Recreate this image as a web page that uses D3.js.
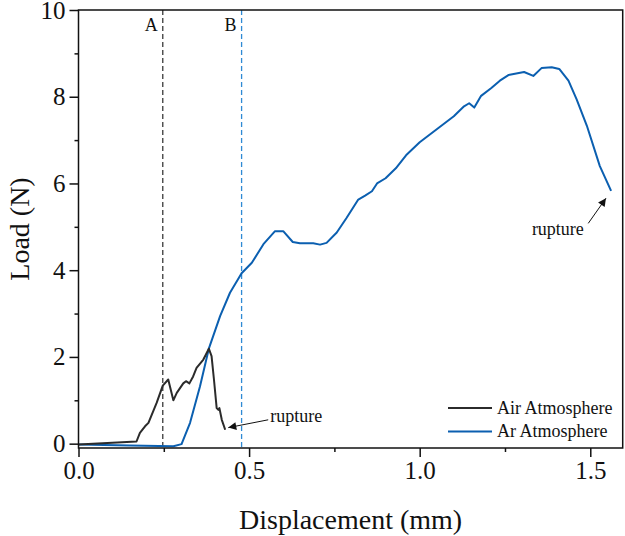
<!DOCTYPE html>
<html>
<head>
<meta charset="utf-8">
<script src="https://cdn.jsdelivr.net/npm/d3@7/dist/d3.min.js"></script>
<style>
  body { margin: 0; background: #fff; }
  text { font-family: "Liberation Serif", "Times New Roman", serif; fill: #111; }
</style>
</head>
<body>
<svg width="625" height="536"></svg>
<script>
//************************* DATA ***************************//

// Air atmosphere (black curve)
var airX = [0, 0.17, 0.18, 0.195, 0.205, 0.229, 0.247, 0.263, 0.278, 0.288, 0.307, 0.315, 0.325,
            0.336, 0.346, 0.366, 0.382, 0.39, 0.397, 0.405, 0.41, 0.413, 0.42, 0.43];
var airY = [-0.02, 0.05, 0.25, 0.40, 0.48, 0.94, 1.34, 1.48, 1.0, 1.17, 1.39, 1.44, 1.39,
            1.55, 1.75, 1.94, 2.19, 2.02, 1.48, 0.82, 0.78, 0.82, 0.55, 0.32];

// Ar atmosphere (blue curve)
var arX = [0, 0.15, 0.278, 0.302, 0.327, 0.356, 0.382, 0.415, 0.444, 0.478, 0.508, 0.542, 0.576,
           0.60, 0.628, 0.649, 0.688, 0.708, 0.727, 0.757, 0.786, 0.82, 0.84, 0.86, 0.875, 0.9,
           0.93, 0.96, 1.0, 1.05, 1.1, 1.13, 1.145, 1.16, 1.18, 1.21, 1.235, 1.26, 1.306, 1.333,
           1.357, 1.387, 1.409, 1.436, 1.46, 1.49, 1.528, 1.561];
var arY = [-0.02, -0.04, -0.06, -0.01, 0.48, 1.32, 2.19, 2.94, 3.48, 3.93, 4.17, 4.6, 4.9,
           4.9, 4.65, 4.62, 4.62, 4.59, 4.63, 4.87, 5.21, 5.63, 5.72, 5.82, 6.0, 6.12,
           6.35, 6.65, 6.95, 7.25, 7.55, 7.78, 7.85, 7.75, 8.02, 8.2, 8.37, 8.5, 8.57, 8.48,
           8.66, 8.68, 8.64, 8.37, 7.94, 7.33, 6.4, 5.83];

// ticks and markers
var xTicks = [0, 0.5, 1.0, 1.5];
var xMinor = [0.25, 0.75, 1.25];
var yTicks = [0, 2, 4, 6, 8, 10];
var yMinor = [1, 3, 5, 7, 9];
var markerNames = ["A", "B"];
var markerX = [0.247, 0.478];
var seriesNames = ["Air Atmosphere", "Ar Atmosphere"];
var seriesColors = ["#2b2b2b", "#0b5fb0"];

//************************* CHART ***************************//

var svg = d3.select("svg");

var x = d3.scaleLinear().domain([0, 1.595]).range([78.5, 622.7]);
var y = d3.scaleLinear().domain([-0.1, 10]).range([448, 10]);

// arrow head
svg.append("defs").append("marker")
    .attr("id", "arrow")
    .attr("viewBox", "0 0 10 10")
    .attr("refX", 10).attr("refY", 5)
    .attr("markerUnits", "userSpaceOnUse")
    .attr("markerWidth", 13).attr("markerHeight", 8)
    .attr("orient", "auto")
  .append("path")
    .attr("d", "M0,0 L10,5 L0,10 z")
    .attr("fill", "#111");

// dashed marker lines
var markerColors = ["#3a3a3a", "#2f8ad4"];
markerX.forEach(function (m, i) {
  svg.append("line")
      .attr("x1", x(m)).attr("x2", x(m))
      .attr("y1", y.range()[1]).attr("y2", y.range()[0])
      .attr("stroke", markerColors[i])
      .attr("stroke-width", 1.3)
      .attr("stroke-dasharray", "5,3");
  svg.append("text")
      .attr("x", x(m) - 5)
      .attr("y", 31)
      .attr("text-anchor", "end")
      .style("font-size", "18px")
      .text(markerNames[i]);
});

// curves
var line = d3.line()
    .x(function (d) { return x(d[0]); })
    .y(function (d) { return y(d[1]); });

var series = [d3.zip(airX, airY), d3.zip(arX, arY)];
// blue drawn first so the black curve stays on top where they cross
[1, 0].forEach(function (i) {
  svg.append("path")
      .datum(series[i])
      .attr("fill", "none")
      .attr("stroke", seriesColors[i])
      .attr("stroke-width", 2)
      .attr("stroke-linejoin", "round")
      .attr("d", line);
});

// axes
var xAxis = svg.append("g")
    .attr("transform", "translate(0," + y.range()[0] + ")")
    .call(d3.axisBottom(x).tickValues(xTicks).tickSize(9).tickPadding(4)
          .tickFormat(d3.format(".1f")));
svg.append("g")
    .attr("transform", "translate(0," + y.range()[0] + ")")
    .call(d3.axisBottom(x).tickValues(xMinor).tickSize(4).tickFormat(""));
var yAxis = svg.append("g")
    .attr("transform", "translate(" + x.range()[0] + ",0)")
    .call(d3.axisLeft(y).tickValues(yTicks).tickSize(9).tickPadding(4));
svg.append("g")
    .attr("transform", "translate(" + x.range()[0] + ",0)")
    .call(d3.axisLeft(y).tickValues(yMinor).tickSize(4).tickFormat(""));

svg.selectAll(".domain").remove();
svg.selectAll(".tick line").attr("stroke", "#111").attr("stroke-width", 1.5);
svg.selectAll(".tick text")
    .style("font-size", "25px")
    .style("font-family", "Liberation Serif, serif")
    .attr("fill", "#111");

// frame
svg.append("rect")
    .attr("x", x.range()[0]).attr("y", y.range()[1])
    .attr("width", x.range()[1] - x.range()[0])
    .attr("height", y.range()[0] - y.range()[1])
    .attr("fill", "none")
    .attr("stroke", "#111")
    .attr("stroke-width", 1.5);

// axis titles
svg.append("text")
    .attr("x", (x.range()[0] + x.range()[1]) / 2)
    .attr("y", 529)
    .attr("text-anchor", "middle")
    .style("font-size", "28px")
    .text("Displacement (mm)");
svg.append("text")
    .attr("transform", "translate(29," + (y.range()[0] + y.range()[1]) / 2 + ") rotate(-90)")
    .attr("text-anchor", "middle")
    .style("font-size", "28px")
    .text("Load (N)");

// rupture notes
svg.append("line")
    .attr("x1", x(0.556)).attr("y1", y(0.55))
    .attr("x2", x(0.439)).attr("y2", y(0.37))
    .attr("stroke", "#111").attr("stroke-width", 1)
    .attr("marker-end", "url(#arrow)");
svg.append("text")
    .attr("x", x(0.562)).attr("y", y(0.51))
    .style("font-size", "18px")
    .text("rupture");

svg.append("line")
    .attr("x1", x(1.494)).attr("y1", y(5.08))
    .attr("x2", x(1.546)).attr("y2", y(5.66))
    .attr("stroke", "#111").attr("stroke-width", 1)
    .attr("marker-end", "url(#arrow)");
svg.append("text")
    .attr("x", x(1.405)).attr("y", y(4.81))
    .attr("text-anchor", "middle")
    .style("font-size", "18px")
    .text("rupture");

// legend
var legend = svg.append("g").attr("transform", "translate(448,408)");
seriesNames.forEach(function (name, i) {
  legend.append("line")
      .attr("x1", 0).attr("x2", 44)
      .attr("y1", i * 23.5).attr("y2", i * 23.5)
      .attr("stroke", seriesColors[i])
      .attr("stroke-width", 2);
  legend.append("text")
      .attr("x", 49).attr("y", i * 23.5)
      .attr("dy", "0.33em")
      .style("font-size", "18px")
      .text(name);
});
</script>
</body>
</html>
